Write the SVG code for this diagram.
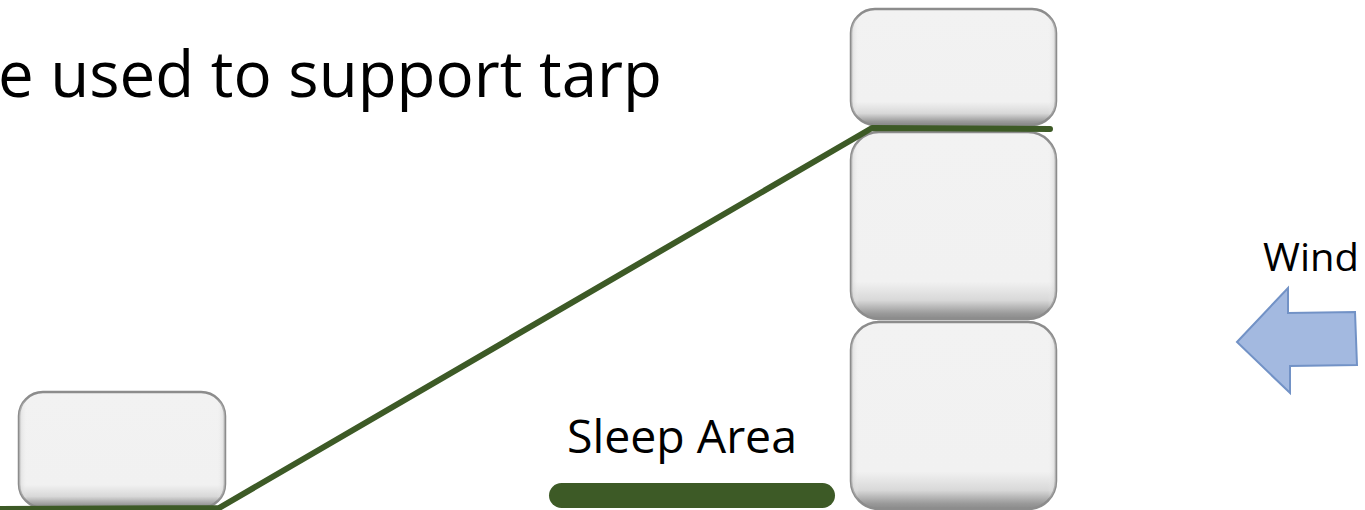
<svg xmlns="http://www.w3.org/2000/svg" width="1365" height="510" viewBox="0 0 1365 510">
<style>
.box{fill:url(#bfill);stroke:#8c8c8c;stroke-width:2.5}
.sh{fill:url(#sideg);stroke:none}
.txt{font-family:"Open Sans","Liberation Sans",sans-serif;fill:#000}
.tarp{fill:none;stroke:#3d5a26;stroke-width:6;stroke-linecap:round;stroke-linejoin:round}
</style>
<defs>
<linearGradient id="bfill" x1="0" y1="0" x2="0" y2="1">
<stop offset="0" stop-color="#f2f2f2"/>
<stop offset="0.8" stop-color="#f1f1f1"/>
<stop offset="0.9" stop-color="#d8d8d8"/>
<stop offset="0.97" stop-color="#9a9a9a"/>
<stop offset="1" stop-color="#8a8a8a"/>
</linearGradient>
<linearGradient id="sideg" x1="0" y1="0" x2="1" y2="0">
<stop offset="0" stop-color="#c8c8c8" stop-opacity="0.6"/>
<stop offset="0.04" stop-color="#f2f2f2" stop-opacity="0"/>
<stop offset="0.96" stop-color="#f2f2f2" stop-opacity="0"/>
<stop offset="1" stop-color="#c8c8c8" stop-opacity="0.6"/>
</linearGradient>
</defs>
<rect width="1365" height="510" fill="#fff"/>
<text class="txt" x="-2" y="97" font-size="64" textLength="664" lengthAdjust="spacingAndGlyphs">e used to support tarp</text>
<g id="rock-left">
<rect class="box" x="19" y="392" width="206" height="116" rx="24"/>
<rect class="sh" x="19" y="392" width="206" height="116" rx="24"/>
</g>
<g id="rock-top">
<rect class="box" x="851" y="9" width="205" height="116" rx="24"/>
<rect class="sh" x="851" y="9" width="205" height="116" rx="24"/>
</g>
<g id="rock-mid">
<rect class="box" x="851" y="132" width="205" height="187" rx="28"/>
<rect class="sh" x="851" y="132" width="205" height="187" rx="28"/>
</g>
<g id="rock-bottom">
<rect class="box" x="851" y="322" width="205" height="187" rx="28"/>
<rect class="sh" x="851" y="322" width="205" height="187" rx="28"/>
</g>
<g id="connectors">
<polyline class="tarp" points="0,509 219,508 872,128 1050,129"/>
</g>
<g id="sleep-area">
<text class="txt" x="567" y="453" font-size="46" textLength="230" lengthAdjust="spacingAndGlyphs">Sleep Area</text>
<rect x="549" y="483" width="286" height="25" rx="12.5" fill="#3d5a26"/>
</g>
<g id="wind">
<text class="txt" x="1263" y="271" font-size="38" textLength="96" lengthAdjust="spacingAndGlyphs">Wind</text>
<polygon points="1237,342 1288,288 1288,313 1355,312 1357,365 1290,366 1290,393" fill="#a3b9e0" stroke="#7292c6" stroke-width="2" stroke-linejoin="miter"/>
</g>
</svg>
